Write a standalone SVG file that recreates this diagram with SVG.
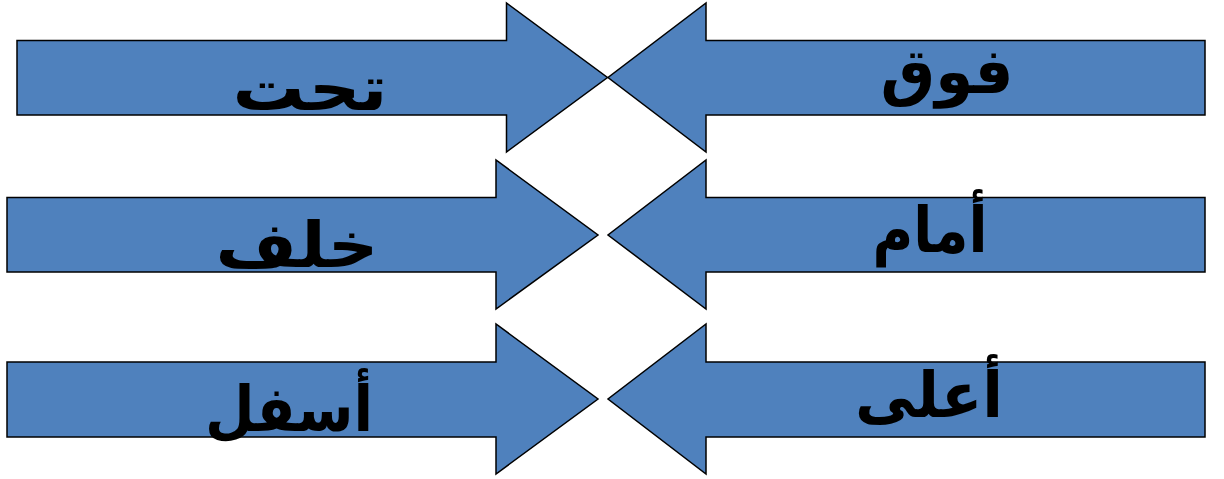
<svg xmlns="http://www.w3.org/2000/svg" width="1224" height="479" viewBox="0 0 1224 479">
<style>
.arr{fill:#4F81BD;stroke:#000;stroke-width:1.5;stroke-linejoin:miter}
.lbl{font-family:"DejaVu Sans","Liberation Sans",sans-serif;font-weight:bold;font-size:63px;fill:#000;text-anchor:middle}
</style>
<rect width="1224" height="479" fill="#fff"/>
<g id="arrow-taht">
<polygon class="arr" points="17,40.5 506.5,40.5 506.5,3 607.5,77.5 506.5,152 506.5,115 17,115"/>
<text class="lbl" x="310" y="110" direction="rtl" textLength="155" lengthAdjust="spacingAndGlyphs">تحت</text>
</g>
<g id="arrow-fawq">
<polygon class="arr" points="1205,40.5 706,40.5 706,3 608,77.5 706,152 706,115 1205,115"/>
<text class="lbl" x="947" y="93" direction="rtl" textLength="133" lengthAdjust="spacingAndGlyphs">فوق</text>
</g>
<g id="arrow-khalf">
<polygon class="arr" points="7,197.5 496,197.5 496,160 598,235 496,309 496,272 7,272"/>
<text class="lbl" x="297" y="267" direction="rtl" textLength="163" lengthAdjust="spacingAndGlyphs">خلف</text>
</g>
<g id="arrow-amam">
<polygon class="arr" points="1205,197.5 706,197.5 706,160 608,235 706,309 706,272 1205,272"/>
<text class="lbl" x="930" y="252" direction="rtl" textLength="115" lengthAdjust="spacingAndGlyphs">أمام</text>
</g>
<g id="arrow-asfal">
<polygon class="arr" points="7,362 496,362 496,324 598,399 496,474 496,437 7,437"/>
<text class="lbl" x="289" y="431" direction="rtl" textLength="168" lengthAdjust="spacingAndGlyphs">أسفل</text>
</g>
<g id="arrow-aala">
<polygon class="arr" points="1205,362 706,362 706,324 608,399 706,474 706,437 1205,437"/>
<text class="lbl" x="929" y="417" direction="rtl" textLength="148" lengthAdjust="spacingAndGlyphs">أعلى</text>
</g>
<g id="connectors"></g>
</svg>
